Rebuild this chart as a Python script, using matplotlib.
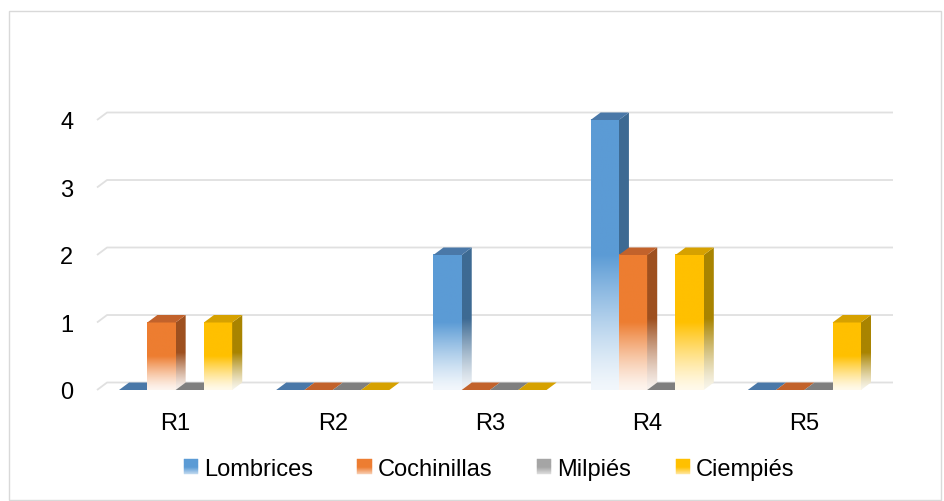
import numpy as np
import matplotlib
matplotlib.use("Agg")
import matplotlib.pyplot as plt
from matplotlib.patches import Polygon, Rectangle
from matplotlib.legend_handler import HandlerBase
from matplotlib.colors import to_rgb

plt.rcParams["font.family"] = ["Liberation Sans", "DejaVu Sans"]

categories = ["R1", "R2", "R3", "R4", "R5"]
series_names = ["Lombrices", "Cochinillas", "Milpiés", "Ciempiés"]
lombrices = [0, 0, 2, 4, 0]
cochinillas = [1, 0, 0, 2, 0]
milpies = [0, 0, 0, 0, 0]
ciempies = [1, 0, 0, 2, 1]
yticks = [0, 1, 2, 3, 4]

series = [lombrices, cochinillas, milpies, ciempies]
front_colors = ["#5B9BD5", "#ED7D31", "#A5A5A5", "#FFC000"]
top_colors = ["#4A78A8", "#C2622B", "#7F7F7F", "#D6A100"]
side_colors = ["#3D6A93", "#9E501F", "#6E6E6E", "#A98400"]
GRID = "#E0E0E0"

BAR_W = 0.18   # width of one bar, in category units
DX = 0.064     # depth offset along x
DY = 0.111     # depth offset along y


def fade_mix(t):
    # top half solid, lower half washes out towards white
    m = np.clip(np.asarray(t) / 0.5, 0, 1)
    return 0.08 + 0.92 * m ** 1.3


def fade_column(color, n=256):
    t = np.linspace(0, 1, n)
    rgb = np.array(to_rgb(color))
    col = 1 - fade_mix(t)[:, None] * (1 - rgb[None, :])
    return col[:, None, :]


class GradientSquare(HandlerBase):
    def create_artists(self, legend, orig_handle, xdescent, ydescent,
                       width, height, fontsize, trans):
        rgb = np.array(to_rgb(orig_handle.get_facecolor()))
        n = 14
        arts = []
        for j in range(n):
            t = (j + 0.5) / n
            mix = 0.35 + 0.65 * np.clip(t / 0.5, 0, 1)
            c = 1 - mix * (1 - rgb)
            r = Rectangle((-xdescent, -ydescent + j * height / n), width,
                          height / n, facecolor=c, edgecolor=c, lw=0.3,
                          transform=trans)
            arts.append(r)
        return arts


W, H = 944, 502
fig = plt.figure(figsize=(W / 100, H / 100), dpi=100)
fig.patch.set_facecolor("white")

# axes box: front x -0.5..4.5 plus depth, front y 0..4 plus depth
left_px, right_px = 97, 893
bottom_px, top_px = 391, 113.5
ax = fig.add_axes([left_px / W, (H - bottom_px) / H,
                   (right_px - left_px) / W, (bottom_px - top_px) / H])

x_lo, x_hi = -0.5, len(categories) - 0.5

# back-wall gridlines with the short slanted piece on the left wall
for v in yticks:
    ax.plot([x_lo, x_lo + DX, x_hi + DX], [v, v + DY, v + DY],
            color=GRID, lw=1.3, zorder=1, clip_on=False,
            solid_capstyle="butt")

idx = 0
for i in range(len(categories)):
    for k, vals in enumerate(series):
        v = vals[i]
        x0 = i + (k - 2) * BAR_W
        z = 2 + idx * 0.1
        idx += 1
        top = Polygon([(x0, v), (x0 + BAR_W, v), (x0 + BAR_W + DX, v + DY),
                       (x0 + DX, v + DY)], closed=True,
                      facecolor=top_colors[k], edgecolor="none",
                      zorder=z + 0.02, clip_on=False)
        if v > 0:
            ax.imshow(fade_column(front_colors[k]),
                      extent=(x0, x0 + BAR_W, 0, v), origin="lower",
                      aspect="auto", interpolation="bilinear", zorder=z)
            side = Polygon([(x0 + BAR_W, 0), (x0 + BAR_W + DX, DY),
                            (x0 + BAR_W + DX, v + DY), (x0 + BAR_W, v)],
                           closed=True, facecolor="none", edgecolor="none")
            ax.add_patch(side)
            im = ax.imshow(fade_column(side_colors[k]),
                           extent=(x0 + BAR_W, x0 + BAR_W + DX, 0, v + DY),
                           origin="lower", aspect="auto",
                           interpolation="bilinear", zorder=z + 0.01)
            im.set_clip_path(side)
        ax.add_patch(top)

ax.set_xlim(x_lo, x_hi + DX)
ax.set_ylim(0, yticks[-1] + DY)
ax.set_xticks(range(len(categories)), categories)
ax.set_yticks(yticks, [str(t) for t in yticks])
ax.tick_params(length=0, labelsize=17, colors="#000000")
ax.tick_params(axis="y", pad=17)
ax.tick_params(axis="x", pad=16)
for s in ax.spines.values():
    s.set_visible(False)
ax.set_facecolor("none")

handles = [Rectangle((0, 0), 1, 1, facecolor=c) for c in front_colors]
fig.legend(handles, series_names, loc="center",
           bbox_to_anchor=(0.518, (H - 470) / H), ncol=4, frameon=False,
           fontsize=17, handlelength=0.6, handleheight=0.6,
           handletextpad=0.25, columnspacing=1.9,
           handler_map={Rectangle: GradientSquare()})

# outer chart border
fig.add_artist(Rectangle((9 / W, 1 / H), 932 / W, 489 / H,
                         transform=fig.transFigure, fill=False,
                         edgecolor="#D9D9D9", lw=1.0))

fig.savefig("out.png", dpi=100)
